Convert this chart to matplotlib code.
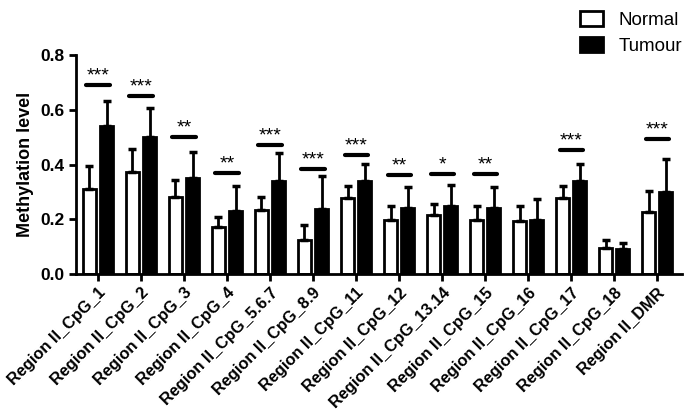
import numpy as np
import matplotlib
matplotlib.use("Agg")
import matplotlib.pyplot as plt

plt.rcParams["font.family"] = ["Liberation Sans", "DejaVu Sans"]
plt.rcParams["font.weight"] = "bold"

# Data
regions = ["Region II_CpG_1", "Region II_CpG_2", "Region II_CpG_3", "Region II_CpG_4",
           "Region II_CpG_5.6.7", "Region II_CpG_8.9", "Region II_CpG_11", "Region II_CpG_12",
           "Region II_CpG_13.14", "Region II_CpG_15", "Region II_CpG_16", "Region II_CpG_17",
           "Region II_CpG_18", "Region II_DMR"]
normal = [0.312, 0.373, 0.280, 0.172, 0.233, 0.126, 0.278, 0.198, 0.215, 0.198, 0.193, 0.278, 0.097, 0.228]
normal_top = [0.394, 0.458, 0.342, 0.209, 0.282, 0.181, 0.320, 0.249, 0.256, 0.249, 0.249, 0.320, 0.123, 0.302]
tumour = [0.540, 0.500, 0.352, 0.231, 0.340, 0.238, 0.340, 0.243, 0.248, 0.243, 0.197, 0.340, 0.091, 0.300]
tumour_top = [0.631, 0.606, 0.447, 0.323, 0.443, 0.358, 0.401, 0.318, 0.324, 0.318, 0.273, 0.401, 0.115, 0.421]
sig_labels = ["***", "***", "**", "**", "***", "***", "***", "**", "*", "**", "", "***", "", "***"]
sig_heights = [0.69, 0.649, 0.499, 0.368, 0.473, 0.385, 0.433, 0.362, 0.365, 0.365, None, 0.452, None, 0.494]

normal = np.array(normal)
tumour = np.array(tumour)
normal_err = np.array(normal_top) - normal
tumour_err = np.array(tumour_top) - tumour

x = np.arange(len(regions))
w = 0.3

fig = plt.figure(figsize=(6.85, 4.16), dpi=100)
ax = fig.add_axes([0.111, 0.341, 0.885, 0.527])

ebar = dict(ecolor="black", elinewidth=2, capsize=3, capthick=2.5)
ax.bar(x - 0.2, normal, w, color="white", edgecolor="black", linewidth=2,
       yerr=[np.zeros_like(normal_err), normal_err], error_kw=ebar, label="Normal")
ax.bar(x + 0.2, tumour, w, color="black", edgecolor="black", linewidth=2,
       yerr=[np.zeros_like(tumour_err), tumour_err], error_kw=ebar, label="Tumour")

# significance bars
for xi, lab, h in zip(x, sig_labels, sig_heights):
    if h is None:
        continue
    ax.plot([xi - 0.27, xi + 0.27], [h, h], color="black", lw=3, solid_capstyle="round")
    ax.text(xi, h + 0.002, lab, ha="center", va="bottom", fontsize=14, fontweight="normal")

ax.set_xlim(-0.51, 13.58)
ax.set_ylim(0, 0.8)
ax.set_yticks([0.0, 0.2, 0.4, 0.6, 0.8])
ax.set_yticklabels(["0.0", "0.2", "0.4", "0.6", "0.8"], fontsize=12.5, fontweight="bold")
ax.set_xticks(x)
ax.set_xticklabels(regions, rotation=45, ha="right", rotation_mode="anchor",
                   fontsize=11.8, fontweight="bold")
ax.set_ylabel("Methylation level", fontsize=13, fontweight="bold")

for s in ["top", "right"]:
    ax.spines[s].set_visible(False)
ax.spines["left"].set_linewidth(2)
ax.spines["bottom"].set_linewidth(2)
ax.tick_params(width=2, length=5)
ax.tick_params(axis="x", pad=3)

fig.legend(loc="upper right", bbox_to_anchor=(1.012, 1.0), frameon=False, borderaxespad=0.2,
           prop={"size": 13.5, "weight": "normal"}, handlelength=1.25, handleheight=0.8,
           handletextpad=0.8, labelspacing=0.45)

fig.savefig("out.png", dpi=100)
